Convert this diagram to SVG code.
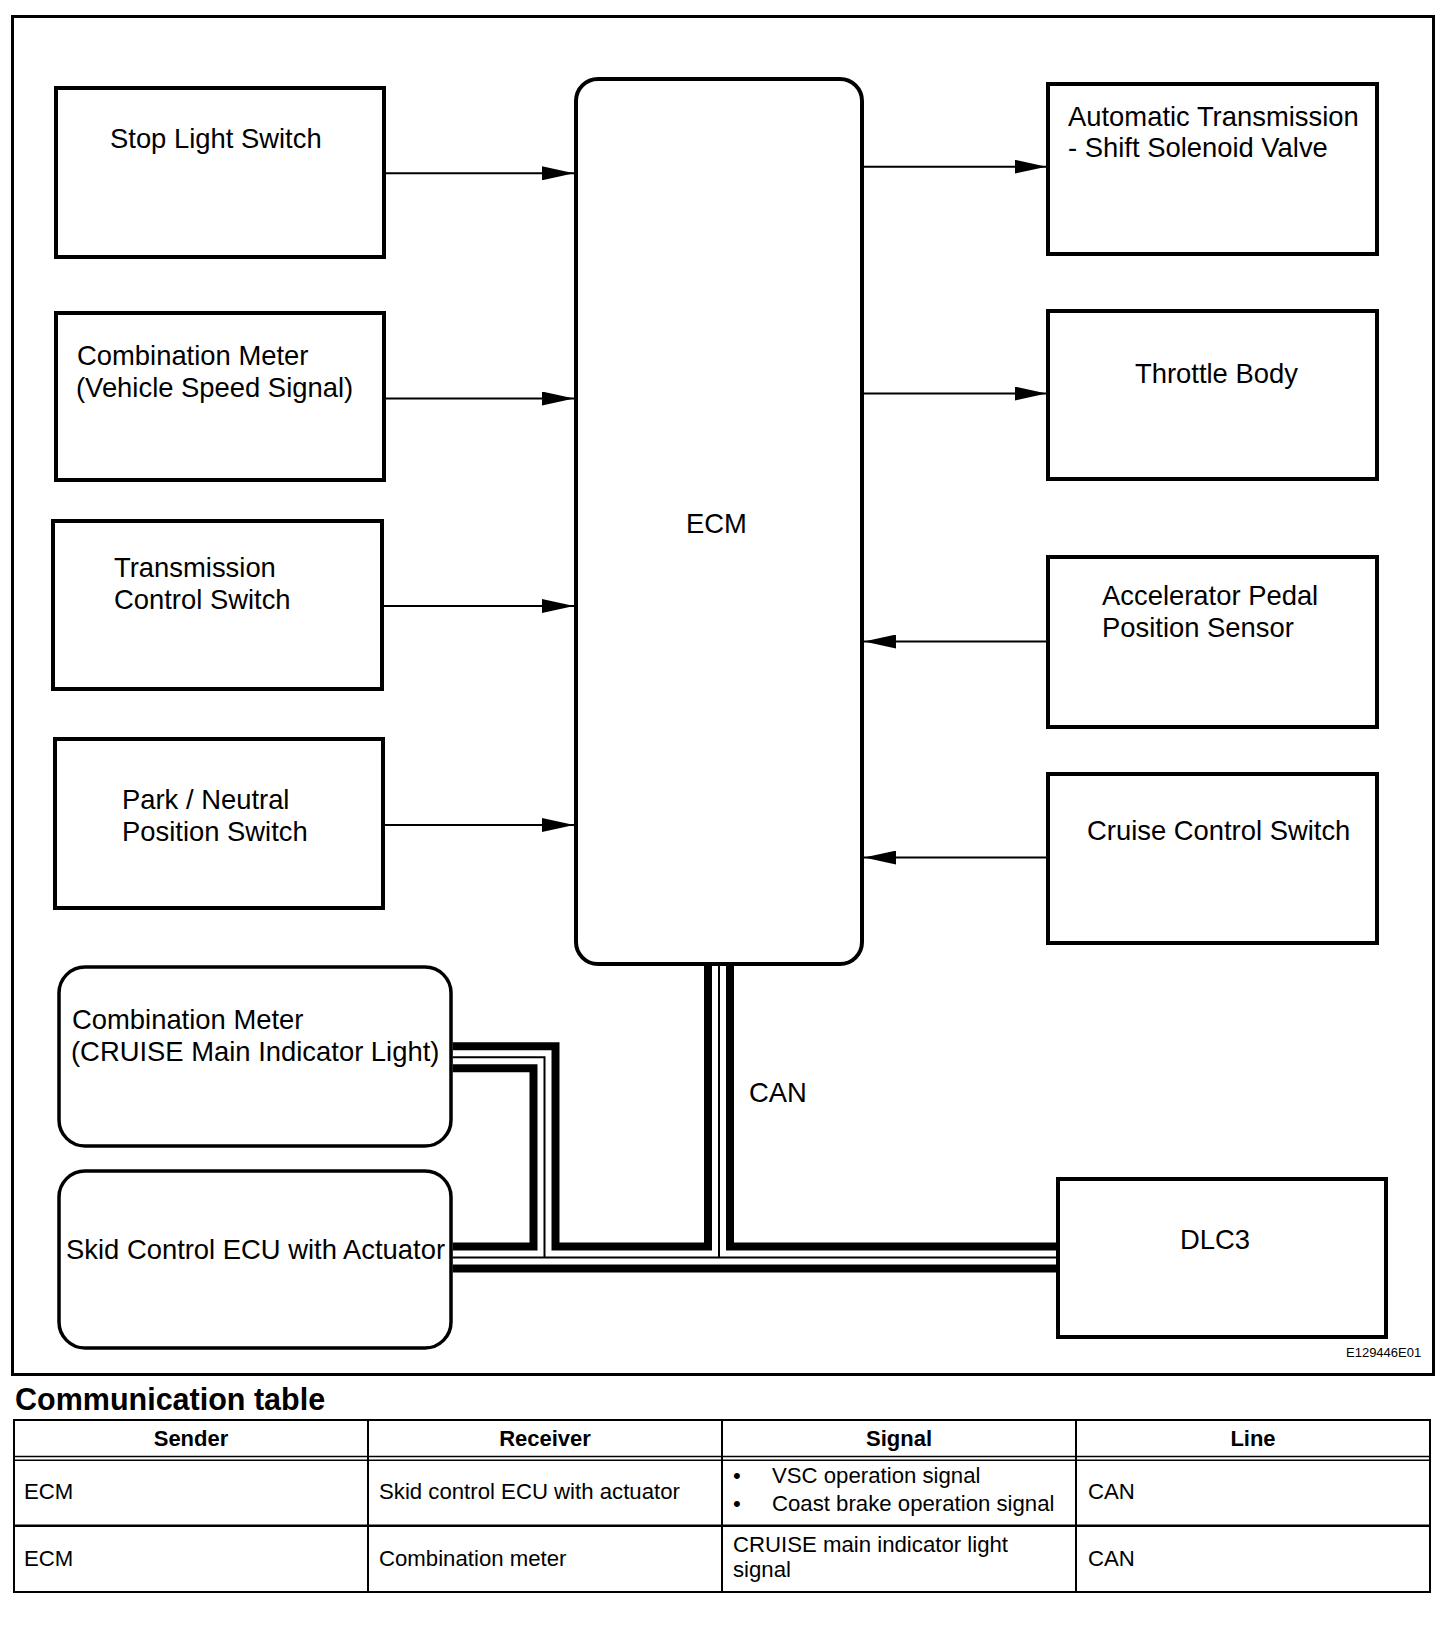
<svg xmlns="http://www.w3.org/2000/svg" width="1456" height="1626" viewBox="0 0 1456 1626">
<defs>
<marker id="ah" markerUnits="userSpaceOnUse" viewBox="0 0 32 14" refX="32" refY="7" markerWidth="32" markerHeight="14" orient="auto">
<path d="M0,0 L32,7 L0,14 z" fill="#000"/>
</marker>
<style>
text{font-family:"Liberation Sans",Arial,Helvetica,sans-serif;fill:#000}
.lbl{font-size:27.4px}
.box{fill:#fff;stroke:#000;stroke-width:4}
.rbox{fill:#fff;stroke:#000;stroke-width:3.5}
.arr{stroke:#000;stroke-width:2;fill:none;marker-end:url(#ah)}
.busO{stroke:#000;stroke-width:30;fill:none;stroke-linejoin:miter}
.busW{stroke:#fff;stroke-width:14;fill:none;stroke-linejoin:miter}
.busC{stroke:#000;stroke-width:2;fill:none;stroke-linejoin:miter}
.tb{font-size:22.2px}
.th{font-size:22px;font-weight:bold}
.tl{stroke:#000;fill:none}
</style>
</defs>
<rect x="0" y="0" width="1456" height="1626" fill="#fff"/>
<rect id="frame" x="12.5" y="16.5" width="1421" height="1358" fill="none" stroke="#000" stroke-width="3"/>

<g id="connectors">
<path class="arr" d="M386,173.3 H574"/>
<path class="arr" d="M386,398.5 H574"/>
<path class="arr" d="M384,606 H574"/>
<path class="arr" d="M385,825 H574"/>
<path class="arr" d="M864,166.7 H1046.5"/>
<path class="arr" d="M864,393.5 H1046.5"/>
<path class="arr" d="M1050,641.5 H864"/>
<path class="arr" d="M1050,857.6 H864"/>
<g id="can-bus">
<path class="busO" d="M719,966 V1257.5"/>
<path class="busO" d="M452.6,1057.3 H544.5 V1257.5"/>
<path class="busO" d="M452.6,1257.5 H1056"/>
<path class="busW" d="M719,966 V1257.5"/>
<path class="busW" d="M452.6,1057.3 H544.5 V1257.5"/>
<path class="busW" d="M452.6,1257.5 H1056"/>
<path class="busC" d="M719,966 V1257.5"/>
<path class="busC" d="M452.6,1057.3 H544.5 V1257.5"/>
<path class="busC" d="M452.6,1257.5 H1056"/>
</g>
<text class="lbl" x="749" y="1102">CAN</text>
</g>

<g id="stop-light-switch">
<rect class="box" x="56" y="88" width="328" height="169"/>
<text class="lbl" x="110" y="148">Stop Light Switch</text>
</g>
<g id="combination-meter-speed">
<rect class="box" x="56" y="313" width="328" height="167"/>
<text class="lbl" x="77" y="365">Combination Meter</text>
<text class="lbl" x="76" y="397">(Vehicle Speed Signal)</text>
</g>
<g id="transmission-control-switch">
<rect class="box" x="53" y="521" width="329" height="168"/>
<text class="lbl" x="114" y="577">Transmission</text>
<text class="lbl" x="114" y="609">Control Switch</text>
</g>
<g id="park-neutral-position-switch">
<rect class="box" x="55" y="739" width="328" height="169"/>
<text class="lbl" x="122" y="809">Park / Neutral</text>
<text class="lbl" x="122" y="841">Position Switch</text>
</g>
<g id="ecm">
<rect class="box" x="576" y="79" width="286" height="885" rx="22" ry="22"/>
<text class="lbl" x="686" y="533">ECM</text>
</g>
<g id="automatic-transmission">
<rect class="box" x="1048" y="84" width="329" height="170"/>
<text class="lbl" x="1068" y="126">Automatic Transmission</text>
<text class="lbl" x="1068" y="157">- Shift Solenoid Valve</text>
</g>
<g id="throttle-body">
<rect class="box" x="1048" y="311" width="329" height="168"/>
<text class="lbl" x="1135" y="383">Throttle Body</text>
</g>
<g id="accelerator-pedal-position-sensor">
<rect class="box" x="1048" y="557" width="329" height="170"/>
<text class="lbl" x="1102" y="605">Accelerator Pedal</text>
<text class="lbl" x="1102" y="637">Position Sensor</text>
</g>
<g id="cruise-control-switch">
<rect class="box" x="1048" y="774" width="329" height="169"/>
<text class="lbl" x="1087" y="840">Cruise Control Switch</text>
</g>
<g id="combination-meter-cruise">
<rect class="rbox" x="59" y="967" width="392" height="179" rx="26" ry="26"/>
<text class="lbl" x="72" y="1029">Combination Meter</text>
<text class="lbl" x="71" y="1061">(CRUISE Main Indicator Light)</text>
</g>
<g id="skid-control-ecu">
<rect class="rbox" x="59" y="1171" width="392" height="177" rx="26" ry="26"/>
<text class="lbl" x="66" y="1259">Skid Control ECU with Actuator</text>
</g>
<g id="dlc3">
<rect class="box" x="1058" y="1179" width="328" height="158"/>
<text class="lbl" x="1180" y="1249">DLC3</text>
</g>
<text x="1346" y="1357" style="font-size:13px">E129446E01</text>

<g id="communication-table">
<text x="15" y="1410" style="font-size:30.5px;font-weight:bold">Communication table</text>
<rect class="tl" x="14" y="1420" width="1416" height="172" stroke-width="2"/>
<line class="tl" x1="368" y1="1420" x2="368" y2="1592" stroke-width="2"/>
<line class="tl" x1="722" y1="1420" x2="722" y2="1592" stroke-width="2"/>
<line class="tl" x1="1076" y1="1420" x2="1076" y2="1592" stroke-width="2"/>
<line class="tl" x1="14" y1="1456.5" x2="1430" y2="1456.5" stroke-width="1.6"/>
<line class="tl" x1="14" y1="1460.2" x2="1430" y2="1460.2" stroke-width="1.6"/>
<line class="tl" x1="14" y1="1525.8" x2="1430" y2="1525.8" stroke-width="2.6"/>
<text class="th" x="191" y="1446" text-anchor="middle">Sender</text>
<text class="th" x="545" y="1446" text-anchor="middle">Receiver</text>
<text class="th" x="899" y="1446" text-anchor="middle">Signal</text>
<text class="th" x="1253" y="1446" text-anchor="middle">Line</text>
<text class="tb" x="24" y="1499">ECM</text>
<text class="tb" x="379" y="1499">Skid control ECU with actuator</text>
<text class="tb" x="733" y="1483">•</text>
<text class="tb" x="772" y="1483">VSC operation signal</text>
<text class="tb" x="733" y="1511">•</text>
<text class="tb" x="772" y="1511">Coast brake operation signal</text>
<text class="tb" x="1088" y="1499">CAN</text>
<text class="tb" x="24" y="1566">ECM</text>
<text class="tb" x="379" y="1566">Combination meter</text>
<text class="tb" x="733" y="1552">CRUISE main indicator light</text>
<text class="tb" x="733" y="1577">signal</text>
<text class="tb" x="1088" y="1566">CAN</text>
</g>
</svg>
